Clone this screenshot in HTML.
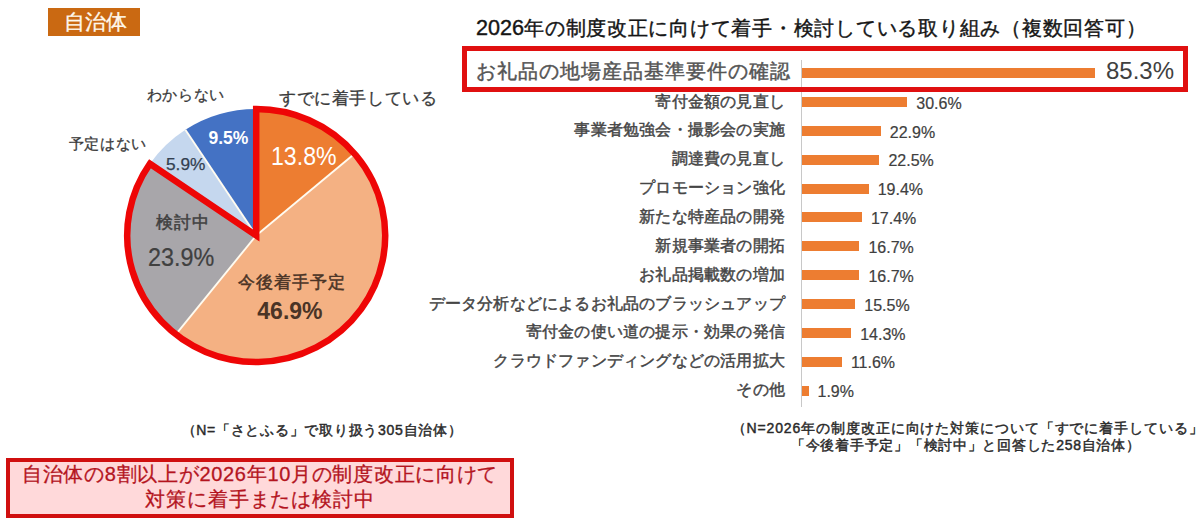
<!DOCTYPE html>
<html lang="ja">
<head>
<meta charset="utf-8">
<style>
html,body{margin:0;padding:0;}
body{width:1200px;height:524px;position:relative;overflow:hidden;background:#fff;font-family:"Liberation Sans",sans-serif;color:#404040;}
.a{position:absolute;white-space:nowrap;line-height:1;}
#tag{left:48px;top:8px;width:92px;height:28px;background:#CA6912;}
#tagt{left:63.5px;top:11px;font-size:21px;letter-spacing:0.4px;color:#FFF8EC;-webkit-text-stroke:0.3px #FFF8EC;}
svg{position:absolute;left:0;top:0;}
.lbl{font-size:16px;letter-spacing:0.2px;color:#454545;text-align:right;right:415px;-webkit-text-stroke:0.45px #454545;}
.val{font-size:16px;color:#404040;-webkit-text-stroke:0.2px #404040;}
.bar{position:absolute;left:802.0px;height:10px;background:#ED7D31;}
#title{left:476px;top:17px;font-size:20px;letter-spacing:0.74px;color:#151515;-webkit-text-stroke:0.4px #151515;}
#title span{font-size:21.6px;letter-spacing:0;}
#hl{left:462px;top:46px;width:716px;height:36px;border:5px solid #E01010;}
#axis{left:801px;top:60px;width:1px;height:347px;background:#C8C8C8;}
#hlab{right:409.5px;top:61.2px;font-size:20px;letter-spacing:1px;color:#555;-webkit-text-stroke:0.45px #555;}
#hval{left:1106px;top:59.2px;font-size:24px;color:#404040;}
.note{font-size:14px;letter-spacing:0.9px;color:#2a2a2a;-webkit-text-stroke:0.45px #2a2a2a;}
#note1{left:181.5px;top:423px;letter-spacing:0.73px;}
#note2{left:731.5px;top:420.5px;}
#note3{left:791px;top:438px;letter-spacing:0.73px;}
#box{left:6px;top:458px;width:500px;height:52px;border:4px solid #D00F0F;background:#FFD9DA;}
#box div{position:absolute;left:0;width:100%;text-align:center;font-size:20px;letter-spacing:0.7px;color:#B4141E;line-height:1;-webkit-text-stroke:0.3px #B4141E;}
</style>
</head>
<body>
<div id="tag" class="a"></div>
<div id="tagt" class="a">自治体</div>
<svg width="1200" height="524" viewBox="0 0 1200 524">
<path d="M256.2,235.5 L256.20,109.00 A129.0,126.5 0 0 1 354.56,153.65 Z" fill="#ED7D31"/>
<path d="M256.2,235.5 L354.56,153.65 A129.0,126.5 0 0 1 175.86,334.47 Z" fill="#F4B183"/>
<path d="M256.2,235.5 L175.86,334.47 A129.0,126.5 0 0 1 149.96,163.74 Z" fill="#A8A6AA"/>
<path d="M256.2,235.5 L149.96,163.74 A129.0,126.5 0 0 1 185.38,129.77 Z" fill="#C5D7EE"/>
<path d="M256.2,235.5 L185.38,129.77 A129.0,126.5 0 0 1 256.20,109.00 Z" fill="#4472C4"/>
<line x1="256.2" y1="235.5" x2="256.20" y2="109.00" stroke="#FFFBF0" stroke-width="1.9"/>
<line x1="256.2" y1="235.5" x2="354.56" y2="153.65" stroke="#FFFBF0" stroke-width="1.9"/>
<line x1="256.2" y1="235.5" x2="175.86" y2="334.47" stroke="#FFFBF0" stroke-width="1.9"/>
<line x1="256.2" y1="235.5" x2="149.96" y2="163.74" stroke="#FFFBF0" stroke-width="1.9"/>
<line x1="256.2" y1="235.5" x2="185.38" y2="129.77" stroke="#FFFBF0" stroke-width="1.9"/>
<path d="M256.2,235.5 L256.20,109.00 A129.0,126.5 0 1 1 149.96,163.74 Z" fill="none" stroke="#EE0606" stroke-width="6.5" stroke-linejoin="miter" stroke-miterlimit="10"/>
</svg>
<div id="p_wakaranai" class="a" style="left:146.8px;top:87px;font-size:15px;letter-spacing:0.6px;color:#3a3a3a;-webkit-text-stroke:0.3px #3a3a3a;">わからない</div>
<div id="p_sudeni" class="a" style="left:279px;top:89.5px;font-size:17px;letter-spacing:0.6px;color:#3a3a3a;-webkit-text-stroke:0.3px #3a3a3a;">すでに着手している</div>
<div id="p_yotei" class="a" style="left:68.8px;top:136px;font-size:15px;letter-spacing:0.6px;color:#3a3a3a;-webkit-text-stroke:0.3px #3a3a3a;">予定はない</div>
<div id="p_95" class="a" style="left:208.5px;top:130px;font-size:17.5px;font-weight:bold;color:#fff;">9.5%</div>
<div id="p_138" class="a" style="left:271.3px;top:144px;font-size:25px;color:#fff;transform-origin:0 0;transform:scaleX(0.925);">13.8%</div>
<div id="p_59" class="a" style="left:166px;top:155.8px;font-size:17.3px;color:#333F50;-webkit-text-stroke:0.25px #333F50;">5.9%</div>
<div id="p_kento" class="a" style="left:155.5px;top:213.7px;font-size:17px;letter-spacing:1.3px;color:#404040;-webkit-text-stroke:0.5px #404040;">検討中</div>
<div id="p_239" class="a" style="left:148px;top:245px;font-size:25px;color:#404040;-webkit-text-stroke:0.2px #404040;transform-origin:0 0;transform:scaleX(0.935);">23.9%</div>
<div id="p_kongo" class="a" style="left:238px;top:273.5px;font-size:17px;letter-spacing:1px;color:#4A3426;-webkit-text-stroke:0.5px #4A3426;">今後着手予定</div>
<div id="p_469" class="a" style="left:257.3px;top:299.5px;font-size:23px;font-weight:bold;color:#4A3426;">46.9%</div>
<div id="title" class="a"><span>2026</span>年の制度改正に向けて着手・検討している取り組み（複数回答可）</div>
<div id="axis" class="a"></div>
<div id="hl" class="a"></div>
<div id="hlab" class="a">お礼品の地場産品基準要件の確認</div>
<div class="bar" style="top:68px;width:293.4px;"></div>
<div id="hval" class="a">85.3%</div>
<div class="bar" style="top:97.0px;width:105.3px;"></div>
<div id="l0" class="a lbl" style="top:93.5px;">寄付金額の見直し</div>
<div id="v0" class="a val" style="left:916.3px;top:95.7px;">30.6%</div>
<div class="bar" style="top:125.8px;width:78.8px;"></div>
<div id="l1" class="a lbl" style="top:122.3px;">事業者勉強会・撮影会の実施</div>
<div id="v1" class="a val" style="left:889.8px;top:124.5px;">22.9%</div>
<div class="bar" style="top:154.7px;width:77.4px;"></div>
<div id="l2" class="a lbl" style="top:151.2px;">調達費の見直し</div>
<div id="v2" class="a val" style="left:888.4px;top:153.4px;">22.5%</div>
<div class="bar" style="top:183.6px;width:66.7px;"></div>
<div id="l3" class="a lbl" style="top:180.1px;">プロモーション強化</div>
<div id="v3" class="a val" style="left:877.7px;top:182.2px;">19.4%</div>
<div class="bar" style="top:212.4px;width:59.9px;"></div>
<div id="l4" class="a lbl" style="top:208.9px;">新たな特産品の開発</div>
<div id="v4" class="a val" style="left:870.9px;top:211.1px;">17.4%</div>
<div class="bar" style="top:241.2px;width:57.4px;"></div>
<div id="l5" class="a lbl" style="top:237.8px;">新規事業者の開拓</div>
<div id="v5" class="a val" style="left:868.4px;top:239.9px;">16.7%</div>
<div class="bar" style="top:270.1px;width:57.4px;"></div>
<div id="l6" class="a lbl" style="top:266.6px;">お礼品掲載数の増加</div>
<div id="v6" class="a val" style="left:868.4px;top:268.8px;">16.7%</div>
<div class="bar" style="top:299.0px;width:53.3px;"></div>
<div id="l7" class="a lbl" style="top:295.5px;">データ分析などによるお礼品のブラッシュアップ</div>
<div id="v7" class="a val" style="left:864.3px;top:297.7px;">15.5%</div>
<div class="bar" style="top:327.8px;width:49.2px;"></div>
<div id="l8" class="a lbl" style="top:324.3px;">寄付金の使い道の提示・効果の発信</div>
<div id="v8" class="a val" style="left:860.2px;top:326.5px;">14.3%</div>
<div class="bar" style="top:356.7px;width:39.9px;"></div>
<div id="l9" class="a lbl" style="top:353.2px;">クラウドファンディングなどの活用拡大</div>
<div id="v9" class="a val" style="left:850.9px;top:355.4px;">11.6%</div>
<div class="bar" style="top:385.5px;width:6.5px;"></div>
<div id="l10" class="a lbl" style="top:382.0px;">その他</div>
<div id="v10" class="a val" style="left:817.5px;top:384.2px;">1.9%</div>
<div id="note1" class="a note">（N=「さとふる」で取り扱う305自治体）</div>
<div id="note2" class="a note">（N=2026年の制度改正に向けた対策について「すでに着手している」</div>
<div id="note3" class="a note">「今後着手予定」「検討中」と回答した258自治体）</div>
<div id="box" class="a">
<div id="box1" style="top:1.9px;">自治体の8割以上が2026年10月の制度改正に向けて</div>
<div id="box2" style="top:26.9px;letter-spacing:0.9px;">対策に着手または検討中</div>
</div>
</body>
</html>
